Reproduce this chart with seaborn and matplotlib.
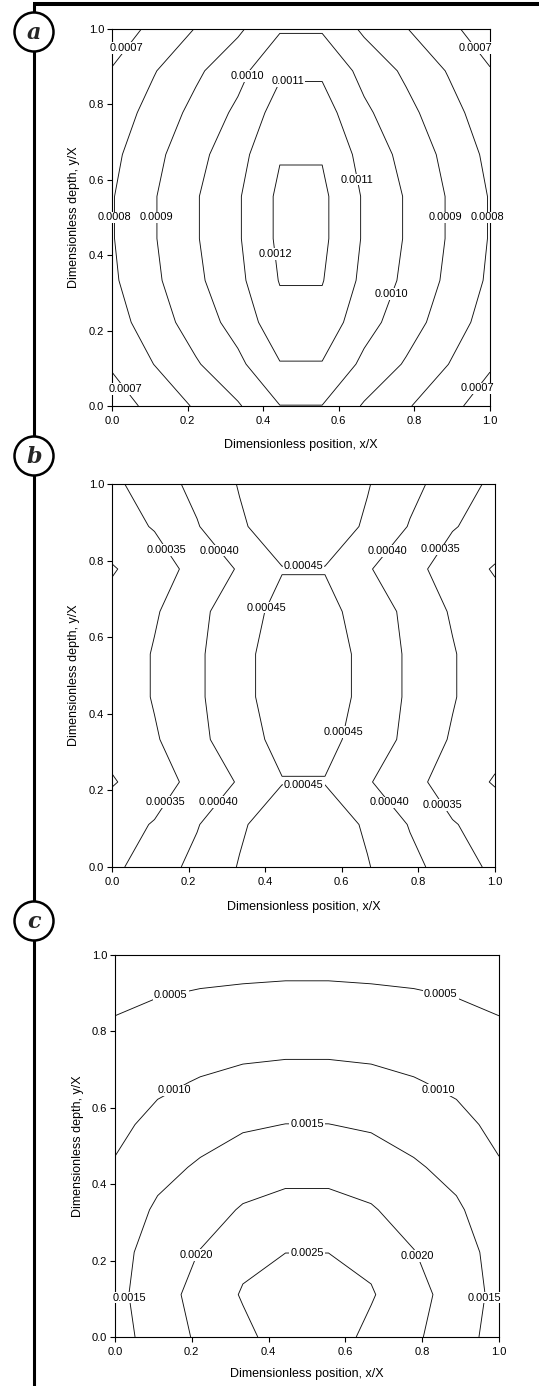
import numpy as np
import matplotlib
matplotlib.use("Agg")
import matplotlib.pyplot as plt
from matplotlib.patches import Circle
from matplotlib.ticker import FormatStrFormatter
import seaborn as sns

# ---------------- data ----------------
# grid nodes (dimensionless position x/X and depth y/X)
x_nodes = [0.0, 0.111, 0.222, 0.333, 0.444, 0.556, 0.667, 0.778, 0.889, 1.0]
y_nodes = [0.0, 0.111, 0.222, 0.333, 0.444, 0.556, 0.667, 0.778, 0.889, 1.0]

# values in units of 1e-3, rows from y=0 (bottom) to y=1 (top)
a_rows = [
    [0.649, 0.730, 0.811, 0.890, 0.998, 0.998, 0.890, 0.811, 0.730, 0.649],
    [0.712, 0.801, 0.890, 0.977, 1.095, 1.095, 0.977, 0.890, 0.801, 0.712],
    [0.757, 0.851, 0.946, 1.038, 1.164, 1.164, 1.038, 0.946, 0.851, 0.757],
    [0.784, 0.881, 0.979, 1.075, 1.205, 1.205, 1.075, 0.979, 0.881, 0.784],
    [0.794, 0.893, 0.992, 1.089, 1.221, 1.221, 1.089, 0.992, 0.893, 0.794],
    [0.794, 0.893, 0.992, 1.089, 1.221, 1.221, 1.089, 0.992, 0.893, 0.794],
    [0.776, 0.873, 0.969, 1.064, 1.193, 1.193, 1.064, 0.969, 0.873, 0.776],
    [0.744, 0.837, 0.929, 1.020, 1.144, 1.144, 1.020, 0.929, 0.837, 0.744],
    [0.706, 0.794, 0.882, 0.968, 1.085, 1.085, 0.968, 0.882, 0.794, 0.706],
    [0.644, 0.724, 0.804, 0.883, 0.990, 0.990, 0.883, 0.804, 0.724, 0.644],
]
a_levels = [0.0007, 0.0008, 0.0009, 0.0010, 0.0011, 0.0012]

b_rows = [
    [0.338, 0.378, 0.413, 0.453, 0.470, 0.470, 0.453, 0.413, 0.378, 0.338],
    [0.331, 0.353, 0.397, 0.443, 0.478, 0.478, 0.443, 0.397, 0.353, 0.331],
    [0.2957, 0.3274, 0.366, 0.4046, 0.448, 0.448, 0.4046, 0.366, 0.3274, 0.2957],
    [0.318, 0.3448, 0.3859, 0.431, 0.463, 0.463, 0.431, 0.3859, 0.3448, 0.318],
    [0.316, 0.3538, 0.3921, 0.4339, 0.4765, 0.4765, 0.4339, 0.3921, 0.3538, 0.316],
    [0.316, 0.3538, 0.3921, 0.4339, 0.4765, 0.4765, 0.4339, 0.3921, 0.3538, 0.316],
    [0.318, 0.3448, 0.3859, 0.431, 0.463, 0.463, 0.431, 0.3859, 0.3448, 0.318],
    [0.2957, 0.3274, 0.366, 0.4046, 0.448, 0.448, 0.4046, 0.366, 0.3274, 0.2957],
    [0.331, 0.353, 0.397, 0.443, 0.478, 0.478, 0.443, 0.397, 0.353, 0.331],
    [0.338, 0.378, 0.413, 0.453, 0.470, 0.470, 0.453, 0.413, 0.378, 0.338],
]
b_levels = [0.00030, 0.00035, 0.00040, 0.00045]

c_rows = [
    [1.319, 1.704, 2.086, 2.380, 2.723, 2.723, 2.380, 2.086, 1.704, 1.319],
    [1.359, 1.792, 2.170, 2.540, 2.800, 2.800, 2.540, 2.170, 1.792, 1.359],
    [1.336, 1.700, 2.017, 2.380, 2.494, 2.494, 2.380, 2.017, 1.700, 1.336],
    [1.184, 1.574, 1.786, 2.043, 2.165, 2.165, 2.043, 1.786, 1.574, 1.184],
    [1.040, 1.352, 1.562, 1.746, 1.837, 1.837, 1.746, 1.562, 1.352, 1.040],
    [0.887, 1.128, 1.295, 1.442, 1.506, 1.506, 1.442, 1.295, 1.128, 0.887],
    [0.736, 0.913, 1.031, 1.120, 1.177, 1.177, 1.120, 1.031, 0.913, 0.736],
    [0.585, 0.706, 0.788, 0.839, 0.848, 0.848, 0.839, 0.788, 0.706, 0.585],
    [0.435, 0.498, 0.550, 0.584, 0.590, 0.590, 0.584, 0.550, 0.498, 0.435],
    [0.284, 0.294, 0.310, 0.322, 0.360, 0.360, 0.322, 0.310, 0.294, 0.284],
]
c_levels = [0.0005, 0.0010, 0.0015, 0.0020, 0.0025]

tick_values = [0.0, 0.2, 0.4, 0.6, 0.8, 1.0]
x_label = "Dimensionless position, x/X"
y_label = "Dimensionless depth, y/X"
panel_letters = ["a", "b", "c"]

# label placement (data coordinates near which each label sits)
a_label_pos = [
    (0.037, 0.95), (0.963, 0.95), (0.038, 0.047), (0.966, 0.047),
    (0.007, 0.5), (0.993, 0.5),
    (0.119, 0.5), (0.884, 0.5),
    (0.365, 0.873), (0.738, 0.297),
    (0.466, 0.865), (0.646, 0.6),
    (0.429, 0.403),
]
b_label_pos = [
    (0.139, 0.825), (0.864, 0.825), (0.139, 0.170), (0.870, 0.167),
    (0.279, 0.825), (0.720, 0.825), (0.282, 0.167), (0.722, 0.167),
    (0.5, 0.782), (0.409, 0.675), (0.606, 0.352), (0.501, 0.213),
]
c_label_pos = [
    (0.145, 0.898), (0.849, 0.898),
    (0.163, 0.628), (0.833, 0.628),
    (0.5, 0.556), (0.036, 0.103), (0.965, 0.103),
    (0.215, 0.214), (0.788, 0.212),
    (0.5, 0.218),
]

# ---------------- style ----------------
sns.set_theme(style="ticks")
plt.rcParams['font.family'] = ['Liberation Sans', 'DejaVu Sans']
plt.rcParams['axes.edgecolor'] = 'black'
plt.rcParams['xtick.color'] = 'black'
plt.rcParams['ytick.color'] = 'black'

W, H = 539, 1386
fig = plt.figure(figsize=(W / 100, H / 100), dpi=100)
fig.patch.set_facecolor('white')


def add_ax(l, r, t, b):
    return fig.add_axes([l / W, 1 - b / H, (r - l) / W, (b - t) / H])


panels = [
    dict(rect=(112, 490, 29, 406), rows=a_rows, levels=a_levels, fmt='%.4f',
         labels=a_label_pos, ylx=-0.085, xly=-0.0875),
    dict(rect=(112, 495, 484, 867), rows=b_rows, levels=b_levels, fmt='%.5f',
         labels=b_label_pos, ylx=-0.084, xly=-0.088),
    dict(rect=(115, 499, 955, 1337), rows=c_rows, levels=c_levels, fmt='%.4f',
         labels=c_label_pos, ylx=-0.081, xly=-0.081),
]

for p in panels:
    ax = add_ax(*p['rect'])
    Z = np.array(p['rows']) * 1e-3
    cs = ax.contour(x_nodes, y_nodes, Z, levels=p['levels'],
                    colors='#111111', linewidths=0.65)
    ax.clabel(cs, manual=p['labels'], inline=False,
              fontsize=7.9, fmt=p['fmt'])
    for t in cs.labelTexts:
        t.set_rotation(0)
        t.set_bbox(dict(boxstyle='square,pad=0.08', fc='white', ec='none'))
        t.set_clip_on(False)
        t.set_zorder(6)
        t.set_color('black')
    ax.set_xlim(0, 1)
    ax.set_ylim(0, 1)
    ax.set_xticks(tick_values)
    ax.set_yticks(tick_values)
    ax.xaxis.set_major_formatter(FormatStrFormatter('%.1f'))
    ax.yaxis.set_major_formatter(FormatStrFormatter('%.1f'))
    ax.tick_params(direction='out', length=3.5, width=0.8, labelsize=8,
                   colors='black')
    ax.tick_params(axis='y', pad=2)
    ax.tick_params(axis='x', pad=4)
    for s in ax.spines.values():
        s.set_linewidth(0.8)
        s.set_color('black')
        s.set_visible(True)
    ax.set_xlabel(x_label, fontsize=9, color='black')
    ax.set_ylabel(y_label, fontsize=9, color='black')
    ax.yaxis.set_label_coords(p['ylx'], 0.5)
    ax.xaxis.set_label_coords(0.5, p['xly'])
    ax.grid(False)

# ---------------- decorations (panel markers) ----------------
ov = fig.add_axes([0, 0, 1, 1])
ov.set_xlim(0, W)
ov.set_ylim(H, 0)
ov.axis('off')
ov.plot([34, 34], [4, H], color='black', lw=2.2, solid_capstyle='butt', zorder=1)
ov.plot([33, W], [4, 4], color='black', lw=2.9, solid_capstyle='butt', zorder=1)
for lab, cy in zip(panel_letters, [32, 456, 921]):
    ov.add_patch(Circle((34, cy), 19.5, fc='white', ec='black', lw=1.8, zorder=3))
    ov.text(34, cy + 1, lab, fontsize=16, fontstyle='italic', fontweight='bold',
            family='DejaVu Serif', ha='center', va='center', zorder=4)

fig.savefig('out.png', dpi=100, facecolor='white')
